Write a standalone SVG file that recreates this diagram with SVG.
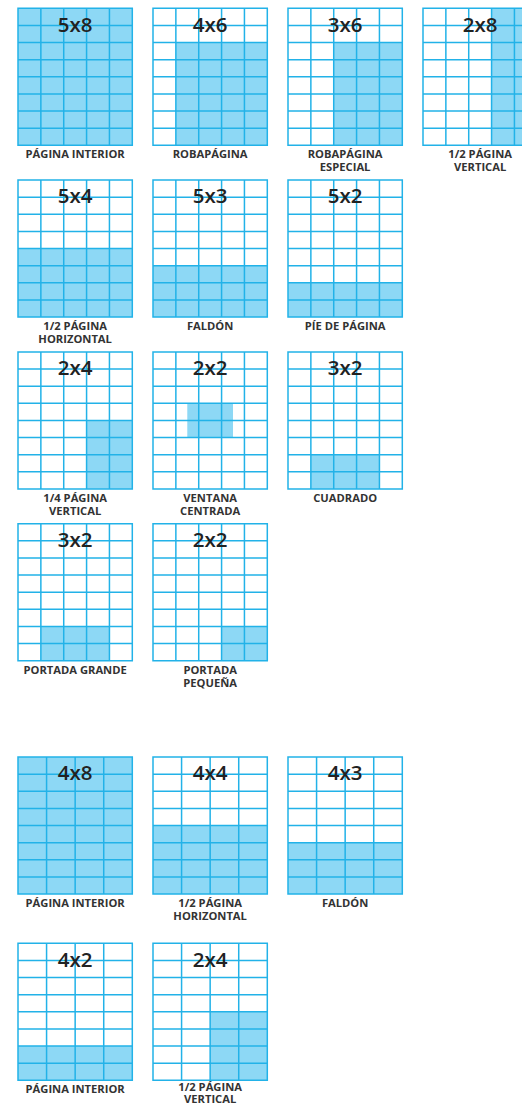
<svg xmlns="http://www.w3.org/2000/svg" xmlns:xlink="http://www.w3.org/1999/xlink" width="522" height="1105" viewBox="0 0 522 1105">
<style>
.f{fill:#8dd8f5}
.g{fill:none;stroke:#22b2e8;stroke-width:1.5}
.t{font-family:"Open Sans","DejaVu Sans",sans-serif;font-weight:600;font-size:20.5px;fill:#222;text-anchor:middle}
.l{font-family:"Open Sans","DejaVu Sans",sans-serif;font-weight:700;font-size:11.2px;fill:#333;text-anchor:middle}
</style>
<defs>
<path id="g5" class="g" d="M0,0H114.3V137H0Z M22.86,0V137 M45.72,0V137 M68.58,0V137 M91.44,0V137 M0,17.125H114.3 M0,34.25H114.3 M0,51.375H114.3 M0,68.5H114.3 M0,85.625H114.3 M0,102.75H114.3 M0,119.875H114.3"/>
<path id="g4" class="g" d="M0,0H114.3V137H0Z M28.575,0V137 M57.15,0V137 M85.725,0V137 M0,17.125H114.3 M0,34.25H114.3 M0,51.375H114.3 M0,68.5H114.3 M0,85.625H114.3 M0,102.75H114.3 M0,119.875H114.3"/>
</defs>
<rect width="522" height="1105" fill="#fff"/>

<g id="n-5x8" transform="translate(18,8.3)">
<rect class="f" x="0" y="0" width="114.3" height="137"/>
<use xlink:href="#g5"/>
<text class="t" x="57.15" y="23.3">5x8</text>
<text class="l" x="57.15" y="150">PÁGINA INTERIOR</text>
</g>
<g id="n-4x6" transform="translate(153,8.3)">
<rect class="f" x="22.86" y="34.25" width="91.44" height="102.75"/>
<use xlink:href="#g5"/>
<text class="t" x="57.15" y="23.3">4x6</text>
<text class="l" x="57.15" y="150">ROBAPÁGINA</text>
</g>
<g id="n-3x6" transform="translate(288,8.3)">
<rect class="f" x="45.72" y="34.25" width="68.58" height="102.75"/>
<use xlink:href="#g5"/>
<text class="t" x="57.15" y="23.3">3x6</text>
<text class="l" x="57.15" y="150">ROBAPÁGINA</text>
<text class="l" x="57.15" y="163">ESPECIAL</text>
</g>
<g id="n-2x8" transform="translate(423,8.3)">
<rect class="f" x="68.58" y="0" width="45.72" height="137"/>
<use xlink:href="#g5"/>
<text class="t" x="57.15" y="23.3">2x8</text>
<text class="l" x="57.15" y="150">1/2 PÁGINA</text>
<text class="l" x="57.15" y="163">VERTICAL</text>
</g>

<g id="n-5x4" transform="translate(18,180.1)">
<rect class="f" x="0" y="68.5" width="114.3" height="68.5"/>
<use xlink:href="#g5"/>
<text class="t" x="57.15" y="23.3">5x4</text>
<text class="l" x="57.15" y="150">1/2 PÁGINA</text>
<text class="l" x="57.15" y="163">HORIZONTAL</text>
</g>
<g id="n-5x3" transform="translate(153,180.1)">
<rect class="f" x="0" y="85.625" width="114.3" height="51.375"/>
<use xlink:href="#g5"/>
<text class="t" x="57.15" y="23.3">5x3</text>
<text class="l" x="57.15" y="150">FALDÓN</text>
</g>
<g id="n-5x2" transform="translate(288,180.1)">
<rect class="f" x="0" y="102.75" width="114.3" height="34.25"/>
<use xlink:href="#g5"/>
<text class="t" x="57.15" y="23.3">5x2</text>
<text class="l" x="57.15" y="150">PÍE DE PÁGINA</text>
</g>

<g id="n-2x4" transform="translate(18,351.9)">
<rect class="f" x="68.58" y="68.5" width="45.72" height="68.5"/>
<use xlink:href="#g5"/>
<text class="t" x="57.15" y="23.3">2x4</text>
<text class="l" x="57.15" y="150">1/4 PÁGINA</text>
<text class="l" x="57.15" y="163">VERTICAL</text>
</g>
<g id="n-2x2c" transform="translate(153,351.9)">
<rect class="f" x="34.29" y="51.375" width="45.72" height="34.25"/>
<use xlink:href="#g5"/>
<text class="t" x="57.15" y="23.3">2x2</text>
<text class="l" x="57.15" y="150">VENTANA</text>
<text class="l" x="57.15" y="163">CENTRADA</text>
</g>
<g id="n-3x2c" transform="translate(288,351.9)">
<rect class="f" x="22.86" y="102.75" width="68.58" height="34.25"/>
<use xlink:href="#g5"/>
<text class="t" x="57.15" y="23.3">3x2</text>
<text class="l" x="57.15" y="150">CUADRADO</text>
</g>

<g id="n-3x2" transform="translate(18,523.7)">
<rect class="f" x="22.86" y="102.75" width="68.58" height="34.25"/>
<use xlink:href="#g5"/>
<text class="t" x="57.15" y="23.3">3x2</text>
<text class="l" x="57.15" y="150">PORTADA GRANDE</text>
</g>
<g id="n-2x2" transform="translate(153,523.7)">
<rect class="f" x="68.58" y="102.75" width="45.72" height="34.25"/>
<use xlink:href="#g5"/>
<text class="t" x="57.15" y="23.3">2x2</text>
<text class="l" x="57.15" y="150">PORTADA</text>
<text class="l" x="57.15" y="163">PEQUEÑA</text>
</g>

<g id="n-4x8" transform="translate(18,757)">
<rect class="f" x="0" y="0" width="114.3" height="137"/>
<use xlink:href="#g4"/>
<text class="t" x="57.15" y="23.3">4x8</text>
<text class="l" x="57.15" y="150">PÁGINA INTERIOR</text>
</g>
<g id="n-4x4" transform="translate(153,757)">
<rect class="f" x="0" y="68.5" width="114.3" height="68.5"/>
<use xlink:href="#g4"/>
<text class="t" x="57.15" y="23.3">4x4</text>
<text class="l" x="57.15" y="150">1/2 PÁGINA</text>
<text class="l" x="57.15" y="163">HORIZONTAL</text>
</g>
<g id="n-4x3" transform="translate(288,757)">
<rect class="f" x="0" y="85.625" width="114.3" height="51.375"/>
<use xlink:href="#g4"/>
<text class="t" x="57.15" y="23.3">4x3</text>
<text class="l" x="57.15" y="150">FALDÓN</text>
</g>

<g id="n-4x2" transform="translate(18,943.3)">
<rect class="f" x="0" y="102.75" width="114.3" height="34.25"/>
<use xlink:href="#g4"/>
<text class="t" x="57.15" y="23.3">4x2</text>
<text class="l" x="57.15" y="150">PÁGINA INTERIOR</text>
</g>
<g id="n-2x4b" transform="translate(153,943.3)">
<rect class="f" x="57.15" y="68.5" width="57.15" height="68.5"/>
<use xlink:href="#g4"/>
<text class="t" x="57.15" y="23.3">2x4</text>
<text class="l" x="57.15" y="147.4">1/2 PÁGINA</text>
<text class="l" x="57.15" y="160.2">VERTICAL</text>
</g>
<g id="connectors"></g>
</svg>
